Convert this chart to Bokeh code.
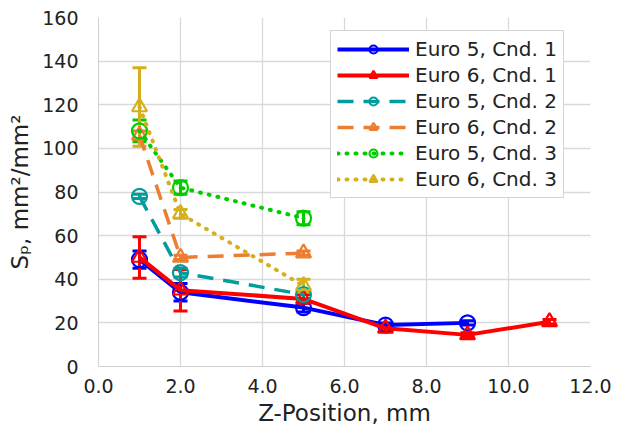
from bokeh.plotting import figure
from bokeh.models import ColumnDataSource, Whisker, TeeHead, Legend, LegendItem, FixedTicker, NumeralTickFormatter
from bokeh.embed import file_html
from bokeh.resources import INLINE

# Specific surface area along the tailpipe, per engine standard and condition
e5c1_x = [1, 2, 5, 7, 9]
e5c1_y = [49, 34, 27, 19, 20]
e5c1_err = [4, 4, 2, 1, 1]

e6c1_x = [1, 2, 5, 7, 9, 11]
e6c1_y = [50, 35, 31, 17.5, 14.5, 20.5]
e6c1_err = [9.5, 9.5, 2, 1, 1, 1]

e5c2_x = [1, 2, 5]
e5c2_y = [78, 43, 33]
e5c2_err = [1, 2, 2]

e6c2_x = [1, 2, 5]
e6c2_y = [106, 50, 52]
e6c2_err = [2, 1, 1]

e5c3_x = [1, 2, 5]
e5c3_y = [108, 82, 68]
e5c3_err = [5, 3, 3]

e6c3_x = [1, 2, 5]
e6c3_y = [119, 70, 37]
e6c3_err = [18, 2, 3]

x_ticks = [0, 2, 4, 6, 8, 10, 12]
y_ticks = [0, 20, 40, 60, 80, 100, 120, 140, 160]

series = [
    ("Euro 5, Cnd. 1", e5c1_x, e5c1_y, e5c1_err, "#0000ff", "solid", "circle", 4),
    ("Euro 6, Cnd. 1", e6c1_x, e6c1_y, e6c1_err, "#ff0000", "solid", "triangle", 4),
    ("Euro 5, Cnd. 2", e5c2_x, e5c2_y, e5c2_err, "#009d9a", "16 10", "circle", 3.5),
    ("Euro 6, Cnd. 2", e6c2_x, e6c2_y, e6c2_err, "#ed7d31", "16 10", "triangle", 3.5),
    ("Euro 5, Cnd. 3", e5c3_x, e5c3_y, e5c3_err, "#00cc00", "1 8", "circle_dot", 4),
    ("Euro 6, Cnd. 3", e6c3_x, e6c3_y, e6c3_err, "#d4b01c", "1 8", "triangle", 4),
]

p = figure(width=634, height=433, output_backend="svg", toolbar_location=None,
           x_range=(0, 12), y_range=(0, 160),
           min_border_left=98, min_border_right=44, min_border_top=17, min_border_bottom=67)
p.outline_line_color = None
p.background_fill_color = "white"

font = "DejaVu Sans"
for ax in (p.xaxis, p.yaxis):
    ax.major_tick_line_color = None
    ax.minor_tick_line_color = None
    ax.axis_line_color = "#d0d0d0"
    ax.major_label_text_font = font
    ax.major_label_text_font_size = "19px"
    ax.major_label_text_color = "#222222"
    ax.axis_label_text_font = font
    ax.axis_label_text_font_style = "normal"
    ax.axis_label_text_font_size = "23px"
    ax.axis_label_text_color = "#222222"

p.xaxis.ticker = FixedTicker(ticks=x_ticks)
p.yaxis.ticker = FixedTicker(ticks=y_ticks)
p.xaxis.formatter = NumeralTickFormatter(format="0.0")
p.xaxis.major_label_standoff = 6
p.yaxis.major_label_standoff = 14
p.xaxis.axis_label = "Z-Position, mm"
p.yaxis.axis_label = "Sₚ, mm²/mm²"
p.xaxis.axis_label_standoff = 4
p.yaxis.axis_label_standoff = 6

p.xgrid.ticker = FixedTicker(ticks=x_ticks)
p.ygrid.ticker = FixedTicker(ticks=y_ticks)
p.xgrid.grid_line_color = "#d9d9d9"
p.ygrid.grid_line_color = "#d9d9d9"
p.xgrid.grid_line_width = 1.3
p.ygrid.grid_line_width = 1.3

items = []
for name, xs, ys, errs, color, dash, marker, lw in series:
    src = ColumnDataSource(dict(
        x=xs, y=ys,
        lo=[v - e for v, e in zip(ys, errs)],
        hi=[v + e for v, e in zip(ys, errs)],
    ))
    cap = dict(line_color=color, line_width=3, size=14)
    p.add_layout(Whisker(source=src, base="x", lower="lo", upper="hi",
                         line_color=color, line_width=3,
                         lower_head=TeeHead(**cap), upper_head=TeeHead(**cap)))
    ln = p.line("x", "y", source=src, line_color=color, line_width=lw,
                line_dash=dash, line_cap="round" if dash == "1 8" else "butt")
    mk = p.scatter("x", "y", source=src, marker=marker, size=15,
                   line_color=color, line_width=2.2, fill_color=None)
    items.append(LegendItem(label=name, renderers=[ln, mk]))

legend = Legend(items=items, location=(232, 168))
legend.label_text_font = font
legend.label_text_font_size = "20px"
legend.label_text_color = "#222222"
legend.glyph_width = 72
legend.glyph_height = 20
legend.label_height = 20
legend.spacing = 2
legend.padding = 6
legend.margin = 0
legend.label_standoff = 6
legend.border_line_color = "#aaaaaa"
legend.border_line_width = 1.5
legend.background_fill_alpha = 1
p.add_layout(legend)

open("out.html", "w").write(file_html(p, INLINE))
